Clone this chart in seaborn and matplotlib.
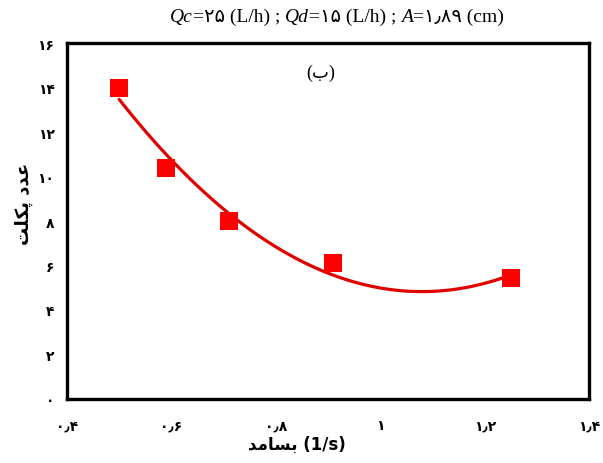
import numpy as np
import pandas as pd
import matplotlib
matplotlib.use("Agg")
import matplotlib.pyplot as plt
import seaborn as sns

# Frequency (1/s) and Peclet number
frequency = [0.50, 0.59, 0.71, 0.91, 1.25]
peclet = [14.0, 10.4, 8.0, 6.1, 5.45]

x_ticks = [0.4, 0.6, 0.8, 1.0, 1.2, 1.4]
x_tick_labels = ["۰٫۴", "۰٫۶", "۰٫۸", "۱", "۱٫۲", "۱٫۴"]
y_ticks = [0, 2, 4, 6, 8, 10, 12, 14, 16]
y_tick_labels = ["۰", "۲", "۴", "۶", "۸", "۱۰", "۱۲", "۱۴", "۱۶"]

# Persian strings in presentation forms, visual (left-to-right) order
x_label = "\uFEAA\uFEE3\uFE8E\uFEB4\uFE91 (1/s)"          # بسامد (1/s)
y_label = "\uFE96\uFEE0\uFB91\uFB58 \uFEA9\uFEAA\uFECB"    # عدد پکلت
panel_label = "(\uFE8F)"                                   # (ب)

df = pd.DataFrame({"f": frequency, "pe": peclet})

sns.set_style("white")
plt.rcParams["font.family"] = ["DejaVu Sans"]
plt.rcParams["text.color"] = "black"
plt.rcParams["xtick.color"] = "black"
plt.rcParams["ytick.color"] = "black"
plt.rcParams["axes.labelcolor"] = "black"

fig = plt.figure(figsize=(6.03, 4.64), dpi=100)
ax = fig.add_axes([0.111, 0.138, 0.866, 0.767])

red = "#ff0000"
sns.regplot(data=df, x="f", y="pe", order=2, ci=None, ax=ax,
            marker="s",
            scatter_kws={"s": 150, "color": red, "alpha": 1.0,
                         "zorder": 3, "linewidths": 0},
            line_kws={"color": "#e00000", "lw": 2.3, "zorder": 2})

ax.set_xlim(0.4, 1.4)
ax.set_ylim(0, 16)
ax.set_xticks(x_ticks)
ax.set_xticklabels(x_tick_labels, fontsize=10, fontweight="bold")
ax.set_yticks(y_ticks)
ax.set_yticklabels(y_tick_labels, fontsize=10, fontweight="bold")
ax.tick_params(axis="y", length=0, pad=9)
ax.tick_params(axis="x", length=0, pad=14)

for s in ax.spines.values():
    s.set_visible(True)
    s.set_color("black")
    s.set_linewidth(2.4)

ax.set_xlabel(x_label, fontsize=12, fontweight="bold")
ax.xaxis.set_label_coords(0.44, -0.1)
ax.set_ylabel(y_label, fontsize=13, fontweight="bold")
ax.yaxis.set_label_coords(-0.065, 0.55)

ax.text(0.885, 14.7, panel_label, fontsize=13, ha="center", va="center",
        family=["Liberation Serif", "DejaVu Sans"])

# Title assembled from pieces so the symbols can be italic
pieces = [("Qc", "italic"), ("=۲۵ (L/h) ; ", "normal"), ("Qd", "italic"),
          ("=۱۵ (L/h) ; ", "normal"), ("A", "italic"), ("=۱٫۸۹ (cm)", "normal")]
prev = fig.text(0.282, 0.952, pieces[0][0], fontsize=14, style=pieces[0][1],
                family=["Liberation Serif", "DejaVu Sans"], va="baseline")
for txt, st in pieces[1:]:
    prev = ax.annotate(txt, xy=(1, 0), xycoords=prev, fontsize=14, style=st,
                       family=["Liberation Serif", "DejaVu Sans"],
                       va="bottom", ha="left", annotation_clip=False)

fig.savefig("out.png", dpi=100)
